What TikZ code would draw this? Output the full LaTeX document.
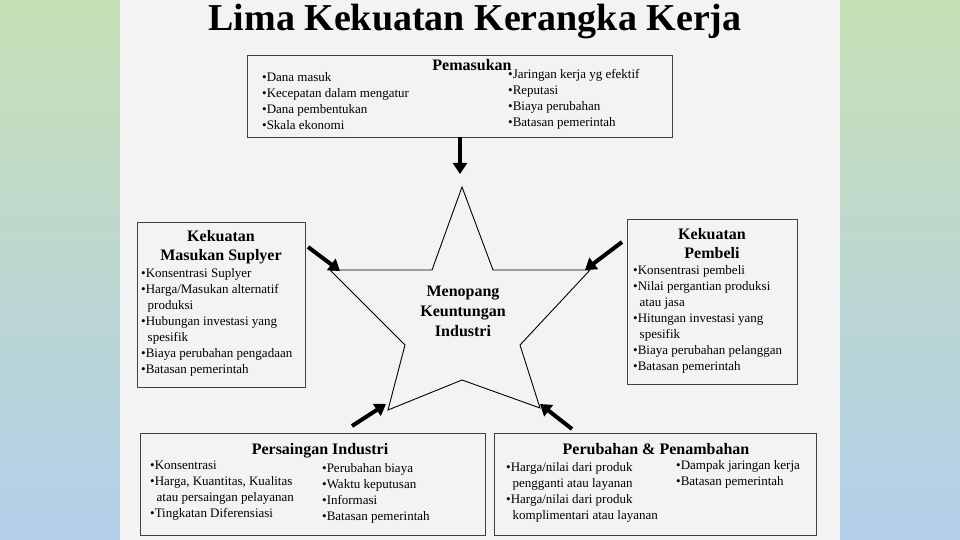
\documentclass[tikz,border=0pt]{standalone}
\usepackage{fontspec}
\setmainfont{Liberation Serif}
\usetikzlibrary{arrows.meta}
\definecolor{gtop}{HTML}{C6E0B6}
\definecolor{gbot}{HTML}{B3CFEA}
\definecolor{panel}{HTML}{F3F3F3}
\tikzset{
 box/.style={draw=black!75,line width=0.8pt},
 ttl/.style={font=\bfseries\fontsize{16}{19}\selectfont,align=center,inner sep=0},
 txt/.style={font=\fontsize{13}{16}\selectfont,align=left,anchor=north west,inner sep=0},
 arr/.style={line width=4pt,-{Triangle[length=11pt,width=14pt]}}
}
\begin{document}
\begin{tikzpicture}[x=1pt,y=-1pt]
\useasboundingbox (0,0) rectangle (960,540);
\shade[top color=gtop,bottom color=gbot] (0,0) rectangle (960,540);
\fill[panel] (120,0) rectangle (840,540);
\node[font=\bfseries\fontsize{38}{40}\selectfont,inner sep=0] (title) at (475,22) {Lima Kekuatan Kerangka Kerja};
% top box
\draw[box] (247,55) rectangle (672,137);
\node[ttl] (t1) at (472,65) {Pemasukan};
\node[txt] (t1a) at (262,72) {•Dana masuk\\•Kecepatan dalam mengatur\\•Dana pembentukan\\•Skala ekonomi};
\node[txt] (t1b) at (508,69) {•Jaringan kerja yg efektif\\•Reputasi\\•Biaya perubahan\\•Batasan pemerintah};
% left box
\draw[box] (137,222) rectangle (305,387);
\node[ttl] (t2) at (221,247) {Kekuatan\\Masukan Suplyer};
\node[txt] (t2a) at (141,268) {•Konsentrasi Suplyer\\•Harga/Masukan alternatif\\\ \ produksi\\•Hubungan investasi yang\\\ \ spesifik\\•Biaya perubahan pengadaan\\•Batasan pemerintah};
% right box
\draw[box] (627,219) rectangle (797,384);
\node[ttl] (t3) at (712,244) {Kekuatan\\Pembeli};
\node[txt] (t3a) at (633,265) {•Konsentrasi pembeli\\•Nilai pergantian produksi\\\ \ atau jasa\\•Hitungan investasi yang\\\ \ spesifik\\•Biaya perubahan pelanggan\\•Batasan pemerintah};
% bottom left
\draw[box] (140,433) rectangle (485,535);
\node[ttl] (t4) at (320,451) {Persaingan Industri};
\node[txt] (t4a) at (150,461) {•Konsentrasi\\•Harga, Kuantitas, Kualitas\\\ \ atau persaingan pelayanan\\•Tingkatan Diferensiasi};
\node[txt] (t4b) at (322,463) {•Perubahan biaya\\•Waktu keputusan\\•Informasi\\•Batasan pemerintah};
% bottom right
\draw[box] (494,433) rectangle (816,535);
\node[ttl] (t5) at (656,449) {Perubahan \& Penambahan};
\node[txt] (t5a) at (506,462) {•Harga/nilai dari produk\\\ \ pengganti atau layanan\\•Harga/nilai dari produk\\\ \ komplimentari atau layanan};
\node[txt] (t5b) at (676,460) {•Dampak jaringan kerja\\•Batasan pemerintah};
% star
\draw[line width=0.9pt] (462,187) -- (493,270) -- (590,270) -- (520,345) -- (540,408) -- (462,380) -- (388,410) -- (405,345) -- (330,270) -- (432,270) -- cycle;
\node[font=\bfseries\fontsize{16}{20}\selectfont,align=center] (c) at (463,311) {Menopang\\Keuntungan\\Industri};
% arrows
\coordinate (a1) at (460,137); \coordinate (b1) at (460,174);
\coordinate (a2) at (308,247); \coordinate (b2) at (340,271);
\coordinate (a3) at (622,242); \coordinate (b3) at (585,270);
\coordinate (a4) at (352,426); \coordinate (b4) at (386,404);
\coordinate (a5) at (572,429); \coordinate (b5) at (540,404);
\draw[arr] (a1) -- (b1);
\draw[arr] (a2) -- (b2);
\draw[arr] (a3) -- (b3);
\draw[arr] (a4) -- (b4);
\draw[arr] (a5) -- (b5);
\end{tikzpicture}
\end{document}
